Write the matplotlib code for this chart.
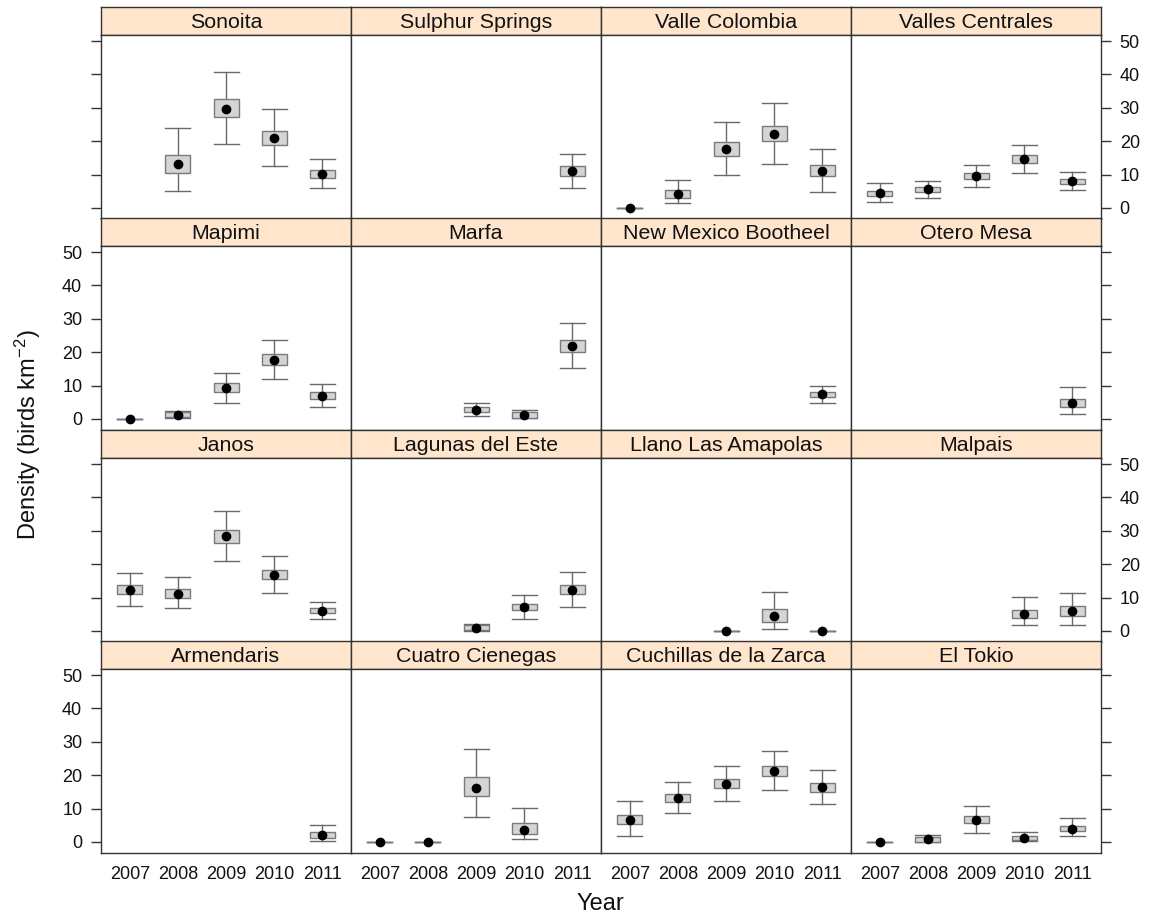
import matplotlib
matplotlib.use("Agg")
import matplotlib.pyplot as plt
import numpy as np

plt.rcParams['font.family'] = ['Liberation Sans', 'DejaVu Sans']
plt.rcParams['mathtext.fontset'] = 'custom'
plt.rcParams['mathtext.rm'] = 'Liberation Sans'
plt.rcParams['mathtext.it'] = 'Liberation Sans:italic'

years = ['2007', '2008', '2009', '2010', '2011']
sites = ['Sonoita', 'Sulphur Springs', 'Valle Colombia', 'Valles Centrales',
         'Mapimi', 'Marfa', 'New Mexico Bootheel', 'Otero Mesa',
         'Janos', 'Lagunas del Este', 'Llano Las Amapolas', 'Malpais',
         'Armendaris', 'Cuatro Cienegas', 'Cuchillas de la Zarca', 'El Tokio']
N = None

# lower whisker, lower box edge, estimate, upper box edge, upper whisker (birds km^-2)
lower = [
    [N, 5.1, 19.2, 12.5, 5.9], [N, N, N, N, 6.1], [0, 1.5, 9.9, 13.2, 4.8], [1.7, 3.1, 6.2, 10.5, 5.4],
    [0, 0.3, 4.9, 11.9, 3.7], [N, N, 0.8, 0.3, 15.2], [N, N, N, N, 4.7], [N, N, N, N, 1.4],
    [7.5, 6.8, 20.9, 11.4, 3.5], [N, N, 0.1, 3.6, 7.3], [N, N, 0, 0.5, 0], [N, N, N, 1.8, 1.8],
    [N, N, N, N, 0.4], [0, 0, 7.4, 0.8, N], [1.9, 8.7, 12.3, 15.6, 11.4], [0, 0, 2.7, 0.4, 1.8],
]
box_low = [
    [N, 10.4, 27.1, 18.8, 8.9], [N, N, N, N, 9.6], [0, 3.1, 15.7, 20.0, 9.6], [3.6, 4.9, 8.6, 13.6, 7.3],
    [0, 0.5, 8.2, 16.3, 6.0], [N, N, 2.0, 0.4, 20.2], [N, N, N, N, 6.5], [N, N, N, N, 3.7],
    [11.1, 9.8, 26.3, 15.5, 5.4], [N, N, 0.3, 6.2, 11.1], [N, N, 0, 2.8, 0], [N, N, N, 3.9, 4.4],
    [N, N, N, N, 1.3], [0, 0, 13.8, 2.5, N], [5.3, 12.0, 16.1, 19.9, 15.1], [0, 0.1, 5.6, 0.5, 3.2],
]
estimate = [
    [N, 13.1, 29.7, 20.9, 10.1], [N, N, N, N, 11.0], [0, 4.2, 17.6, 22.2, 11.1], [4.4, 5.6, 9.6, 14.8, 8.0],
    [0, 1.2, 9.2, 17.7, 7.0], [N, N, 2.7, 1.2, 21.9], [N, N, N, N, 7.4], [N, N, N, N, 4.9],
    [12.3, 11.0, 28.3, 16.9, 6.1], [N, N, 0.9, 7.2, 12.3], [N, N, 0, 4.5, 0], [N, N, N, 5.2, 5.9],
    [N, N, N, N, 2.2], [0, 0, 16.3, 3.7, N], [6.6, 13.2, 17.5, 21.3, 16.4], [0, 0.8, 6.6, 1.3, 4.0],
]
box_high = [
    [N, 15.9, 32.6, 23.2, 11.3], [N, N, N, N, 12.5], [0, 5.3, 19.7, 24.6, 13.0], [5.0, 6.3, 10.6, 15.9, 8.8],
    [0, 2.1, 10.7, 19.4, 8.0], [N, N, 3.5, 2.0, 23.7], [N, N, N, N, 8.2], [N, N, N, N, 6.1],
    [13.7, 12.5, 30.3, 18.3, 6.9], [N, N, 1.7, 8.2, 13.8], [N, N, 0, 6.7, 0], [N, N, N, 6.4, 7.4],
    [N, N, N, N, 3.1], [0, 0, 19.5, 5.7, N], [8.0, 14.5, 18.8, 22.9, 17.8], [0, 1.4, 7.7, 1.9, 4.8],
]
upper = [
    [N, 23.9, 40.8, 29.5, 14.6], [N, N, N, N, 16.1], [0, 8.4, 25.7, 31.3, 17.8], [7.4, 8.2, 13.0, 18.9, 10.8],
    [0, 2.4, 13.8, 23.7, 10.6], [N, N, 4.9, 2.6, 28.6], [N, N, N, N, 10.0], [N, N, N, N, 9.7],
    [17.4, 16.2, 35.8, 22.4, 8.7], [N, N, 2.2, 10.7, 17.7], [N, N, 0, 11.8, 0], [N, N, N, 10.1, 11.5],
    [N, N, N, N, 5.2], [0, 0, 27.7, 10.2, N], [12.2, 17.9, 22.7, 27.1, 21.6], [0, 2.2, 10.7, 2.9, 7.2],
]
y_ticks = [0, 10, 20, 30, 40, 50]

W, H = 1150, 921
fig = plt.figure(figsize=(W / 100, H / 100), dpi=100)

col_left = 101
col_w = 250
row_tops = [7, 218, 430, 641]
strip_h = 28
panel_h = 184

strip_col = '#ffe5cc'
frame_col = '#333333'
box_fill = '#d4d4d4'
box_edge = '#7a7a7a'
whisk_col = '#6a6a6a'
half_w = 0.26


def fig_rect(x, y, w, h):
    return [x / W, 1 - (y + h) / H, w / W, h / H]


for idx, site in enumerate(sites):
    r, c = divmod(idx, 4)
    top = row_tops[r]
    x0 = col_left + c * col_w

    sax = fig.add_axes(fig_rect(x0, top, col_w, strip_h))
    sax.set_facecolor(strip_col)
    sax.set_xticks([])
    sax.set_yticks([])
    for sp in sax.spines.values():
        sp.set_color(frame_col)
        sp.set_linewidth(1.0)
    sax.text(0.5, 0.45, site, ha='center', va='center', fontsize=15.4,
             color='#111111', transform=sax.transAxes)

    ax = fig.add_axes(fig_rect(x0, top + strip_h, col_w, panel_h))
    ax.set_xlim(0.4, 5.6)
    ax.set_ylim(-3.3, 51.8)
    for sp in ax.spines.values():
        sp.set_color(frame_col)
        sp.set_linewidth(1.0)

    for i in range(len(years)):
        m = estimate[idx][i]
        if m is None:
            continue
        xpos = i + 1
        lo, q1, q3, hi = lower[idx][i], box_low[idx][i], box_high[idx][i], upper[idx][i]
        ax.plot([xpos, xpos], [lo, hi], color=whisk_col, lw=1.0, zorder=2)
        ax.plot([xpos - half_w, xpos + half_w], [lo, lo], color=whisk_col, lw=1.0, zorder=2)
        ax.plot([xpos - half_w, xpos + half_w], [hi, hi], color=whisk_col, lw=1.0, zorder=2)
        ax.add_patch(plt.Rectangle((xpos - half_w, q1), 2 * half_w, q3 - q1,
                                   facecolor=box_fill, edgecolor=box_edge,
                                   lw=1.0, zorder=3))
        ax.plot([xpos], [m], 'o', color='black', ms=6, zorder=4)

    # x axis: labels only on the bottom row
    ax.set_xticks(range(1, len(years) + 1))
    if r == 3:
        ax.set_xticklabels(years, fontsize=13)
        ax.tick_params(axis='x', length=0, pad=9, colors='#111111')
    else:
        ax.tick_params(axis='x', length=0, labelbottom=False)

    # y axis: alternating sides
    ax.set_yticks(y_ticks)
    if c == 0:
        ax.tick_params(axis='y', left=True, right=False, length=7.5, width=1.0,
                       color=frame_col, labelleft=(r % 2 == 1), labelright=False,
                       labelsize=13, pad=6, labelcolor='#111111')
    elif c == 3:
        ax.tick_params(axis='y', left=False, right=True, length=7.5, width=1.0,
                       color=frame_col, labelleft=False, labelright=(r % 2 == 0),
                       labelsize=13, pad=6, labelcolor='#111111')
    else:
        ax.tick_params(axis='y', left=False, right=False, labelleft=False,
                       labelright=False)

fig.text(28 / W, 1 - 435 / H, 'Density (birds km$^{-2}$)', rotation=90,
         ha='center', va='center', fontsize=17, color='#111111')
fig.text(600 / W, 1 - 904 / H, 'Year', ha='center', va='center',
         fontsize=17, color='#111111')

fig.savefig('out.png', dpi=100, facecolor='white')
